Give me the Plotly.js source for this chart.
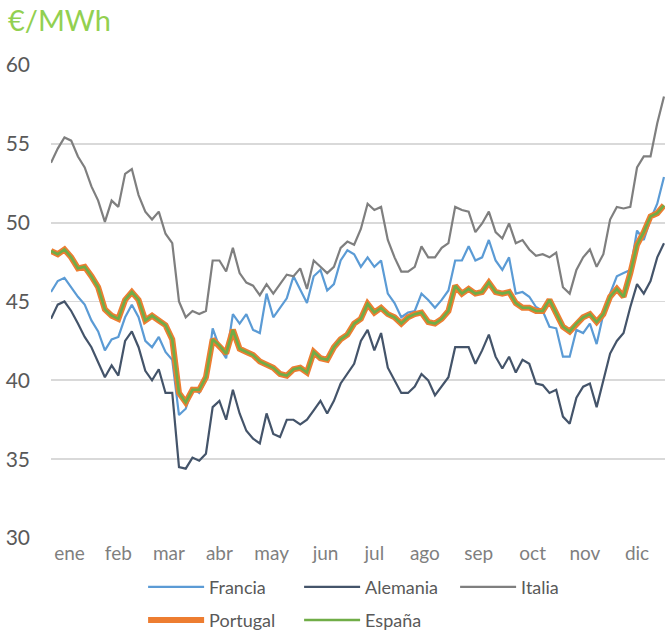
<!DOCTYPE html>
<html>
<head>
<meta charset="utf-8">
<script src="https://cdn.plot.ly/plotly-3.0.1.min.js"></script>
<style>
  html, body { margin: 0; padding: 0; background: #fff; }
  #chart { width: 665px; height: 633px; }
</style>
</head>
<body>
<div id="chart"></div>
<script>
// día del año (cada 4 días)
const dias = [
  0, 4, 8, 12, 16, 20, 24, 28, 32, 36,
  40, 44, 48, 52, 56, 60, 64, 68, 72, 76,
  80, 84, 88, 92, 96, 100, 104, 108, 112, 116,
  120, 124, 128, 132, 136, 140, 144, 148, 152, 156,
  160, 164, 168, 172, 176, 180, 184, 188, 192, 196,
  200, 204, 208, 212, 216, 220, 224, 228, 232, 236,
  240, 244, 248, 252, 256, 260, 264, 268, 272, 276,
  280, 284, 288, 292, 296, 300, 304, 308, 312, 316,
  320, 324, 328, 332, 336, 340, 344, 348, 352, 356,
  360, 364
];

// etiquetas de meses
const meses = ["ene", "feb", "mar", "abr", "may", "jun", "jul", "ago", "sep", "oct", "nov", "dic"];
const mesesPos = [11, 40, 70, 100, 131, 163, 192, 222, 254, 286, 317, 348];

// precios €/MWh
const francia = [
  45.6, 46.3, 46.5, 45.9, 45.3, 44.8, 43.8, 43.1, 41.9, 42.6,
  42.75, 44.0, 44.8, 44.0, 42.5, 42.1, 42.75, 41.8, 41.3, 37.8,
  38.2, 39.5, 39.2, 40.0, 43.3, 42.1, 41.4, 44.2, 43.6, 44.2,
  43.2, 43.0, 45.5, 44.0, 44.6, 45.2, 46.6, 45.7, 44.9, 46.6,
  47.0, 45.7, 46.1, 47.6, 48.25, 48.0, 47.2, 47.8, 47.2, 47.6,
  45.5, 44.9, 44.0, 44.3, 44.4, 45.5, 45.1, 44.6, 45.1, 45.7,
  47.6, 47.6, 48.5, 47.6, 47.8, 48.9, 47.6, 47.0, 47.8, 45.5,
  45.6, 45.3, 44.65, 44.4, 43.4, 43.3, 41.5, 41.5, 43.2, 43.0,
  43.6, 42.3, 44.2, 45.5, 46.6, 46.8, 47.0, 49.5, 48.9, 50.2,
  51.2, 52.9
];

const alemania = [
  43.9, 44.8, 45.0, 44.4, 43.6, 42.75, 42.1, 41.2, 40.2, 40.95,
  40.3, 42.5, 43.1, 42.1, 40.6, 40.0, 40.7, 39.2, 39.2, 34.5,
  34.4, 35.1, 34.9, 35.35, 38.3, 38.7, 37.5, 39.4, 37.9, 36.8,
  36.3, 36.0, 37.9, 36.6, 36.4, 37.5, 37.5, 37.2, 37.5, 38.1,
  38.7, 37.9, 38.7, 39.8, 40.4, 41.05, 42.5, 43.2, 41.9, 43.0,
  40.8, 40.0, 39.2, 39.2, 39.6, 40.4, 40.0, 39.05, 39.6, 40.2,
  42.1, 42.1, 42.1, 41.05, 41.9, 42.9, 41.5, 40.75, 41.5, 40.5,
  41.3, 41.05, 39.8, 39.7, 39.2, 39.4, 37.7, 37.25, 38.9, 39.6,
  39.8, 38.3, 40.0, 41.7, 42.5, 43.0, 44.65, 46.1, 45.5, 46.3,
  47.8, 48.7
];

const italia = [
  53.8, 54.7, 55.4, 55.2, 54.2, 53.5, 52.3, 51.4, 50.05, 51.4,
  51.0, 53.1, 53.4, 51.75, 50.7, 50.2, 50.7, 49.3, 48.7, 45.0,
  44.0, 44.4, 44.2, 44.4, 47.6, 47.6, 46.9, 48.4, 46.8, 46.2,
  46.0, 45.4, 46.1, 45.5, 46.1, 46.7, 46.6, 47.1, 45.8, 47.6,
  47.2, 46.8, 47.2, 48.4, 48.8, 48.6, 49.6, 51.2, 50.8, 51.0,
  48.9, 47.8, 46.9, 46.9, 47.2, 48.5, 47.8, 47.8, 48.4, 48.7,
  51.0, 50.8, 50.7, 49.4, 49.95, 50.7, 49.4, 49.0, 49.95, 48.7,
  48.9, 48.3, 47.9, 48.0, 47.8, 48.1, 45.9, 45.5, 47.0, 47.8,
  48.3, 47.2, 48.0, 50.2, 51.0, 50.9, 51.0, 53.5, 54.2, 54.2,
  56.3, 58.0
];

const portugal = [
  48.2, 48.0, 48.3, 47.8, 47.1, 47.2, 46.6, 45.9, 44.5, 44.1,
  43.9, 45.1, 45.6, 45.1, 43.8, 44.1, 43.8, 43.5, 42.6, 39.2,
  38.6, 39.4, 39.4, 40.2, 42.6, 42.2, 41.7, 43.2, 42.0, 41.8,
  41.6, 41.2, 41.0, 40.8, 40.4, 40.3, 40.7, 40.8, 40.5, 41.8,
  41.4, 41.3, 42.1, 42.6, 42.9, 43.6, 43.9, 44.85, 44.3, 44.6,
  44.2, 44.0, 43.6, 44.0, 44.2, 44.3, 43.7, 43.6, 43.9, 44.4,
  46.0, 45.5, 45.8, 45.5, 45.6, 46.2, 45.6, 45.5, 45.6, 44.9,
  44.6, 44.6, 44.4, 44.4, 45.1, 44.2, 43.4, 43.1, 43.6, 44.0,
  44.2, 43.7, 44.2, 45.3, 45.8, 45.3, 46.8, 48.6, 49.4, 50.4,
  50.6, 51.1
];

const espana = [
  48.2, 48.0, 48.3, 47.8, 47.1, 47.2, 46.6, 45.9, 44.5, 44.1,
  43.9, 45.1, 45.6, 45.1, 43.8, 44.1, 43.8, 43.5, 42.6, 39.2,
  38.6, 39.4, 39.4, 40.2, 42.6, 42.2, 41.7, 43.2, 42.0, 41.8,
  41.6, 41.2, 41.0, 40.8, 40.4, 40.3, 40.7, 40.8, 40.5, 41.8,
  41.4, 41.3, 42.1, 42.6, 42.9, 43.6, 43.9, 44.85, 44.3, 44.6,
  44.2, 44.0, 43.6, 44.0, 44.2, 44.3, 43.7, 43.6, 43.9, 44.4,
  46.0, 45.5, 45.8, 45.5, 45.6, 46.2, 45.6, 45.5, 45.6, 44.9,
  44.6, 44.6, 44.4, 44.4, 45.1, 44.2, 43.4, 43.1, 43.6, 44.0,
  44.2, 43.7, 44.2, 45.3, 45.8, 45.3, 46.8, 48.6, 49.4, 50.4,
  50.6, 51.1
];

const fuente = "Lato, 'Open Sans', sans-serif";

// una serie = una línea
function serie(nombre, y, color, ancho, leyenda) {
  return {
    x: dias,
    y: y,
    name: nombre,
    type: "scatter",
    mode: "lines",
    line: { color: color, width: ancho },
    legend: leyenda,
    hoverinfo: "x+y+name",
  };
}

const trazas = [
  serie("Francia", francia, "#5B9BD5", 2.2, "legend"),
  serie("Alemania", alemania, "#44546A", 2.2, "legend"),
  serie("Italia", italia, "#7F7F7F", 2.2, "legend"),
  serie("Portugal", portugal, "#ED7D31", 6, "legend2"),
  serie("España", espana, "#70AD47", 2.6, "legend2"),
];

const estiloLeyenda = {
  orientation: "h",
  xanchor: "left",
  yanchor: "middle",
  bgcolor: "rgba(0,0,0,0)",
  font: { family: fuente, size: 18, color: "#595959" },
  itemwidth: 56,
  entrywidth: 85,
  entrywidthmode: "pixels",
};

const layout = {
  width: 665,
  height: 633,
  margin: { l: 51, r: 0, t: 65, b: 95, autoexpand: false },
  paper_bgcolor: "#fff",
  plot_bgcolor: "#fff",
  font: { family: fuente },
  title: {
    text: "€/MWh",
    xref: "container",
    yref: "container",
    x: 0.012,
    y: 0.967,
    xanchor: "left",
    yanchor: "middle",
    font: { family: fuente, size: 29, color: "#92D050" },
  },
  xaxis: {
    range: [0, 364.6],
    tickvals: mesesPos,
    ticktext: meses,
    showgrid: false,
    zeroline: false,
    showline: false,
    ticks: "",
    ticklabelstandoff: 2,
    tickfont: { family: fuente, size: 19, color: "#7F7F7F" },
  },
  yaxis: {
    range: [30, 60],
    dtick: 5,
    gridcolor: "#D9D9D9",
    gridwidth: 1.8,
    zeroline: false,
    showline: false,
    ticks: "",
    ticklabelstandoff: 20,
    tickfont: { family: fuente, size: 21, color: "#595959" },
  },
  legend: Object.assign({}, estiloLeyenda, { x: 0.15, y: -0.104 }),
  legend2: Object.assign({}, estiloLeyenda, { x: 0.15, y: -0.174 }),
  showlegend: true,
};

Plotly.newPlot("chart", trazas, layout, { displayModeBar: false, staticPlot: true });
</script>
</body>
</html>
